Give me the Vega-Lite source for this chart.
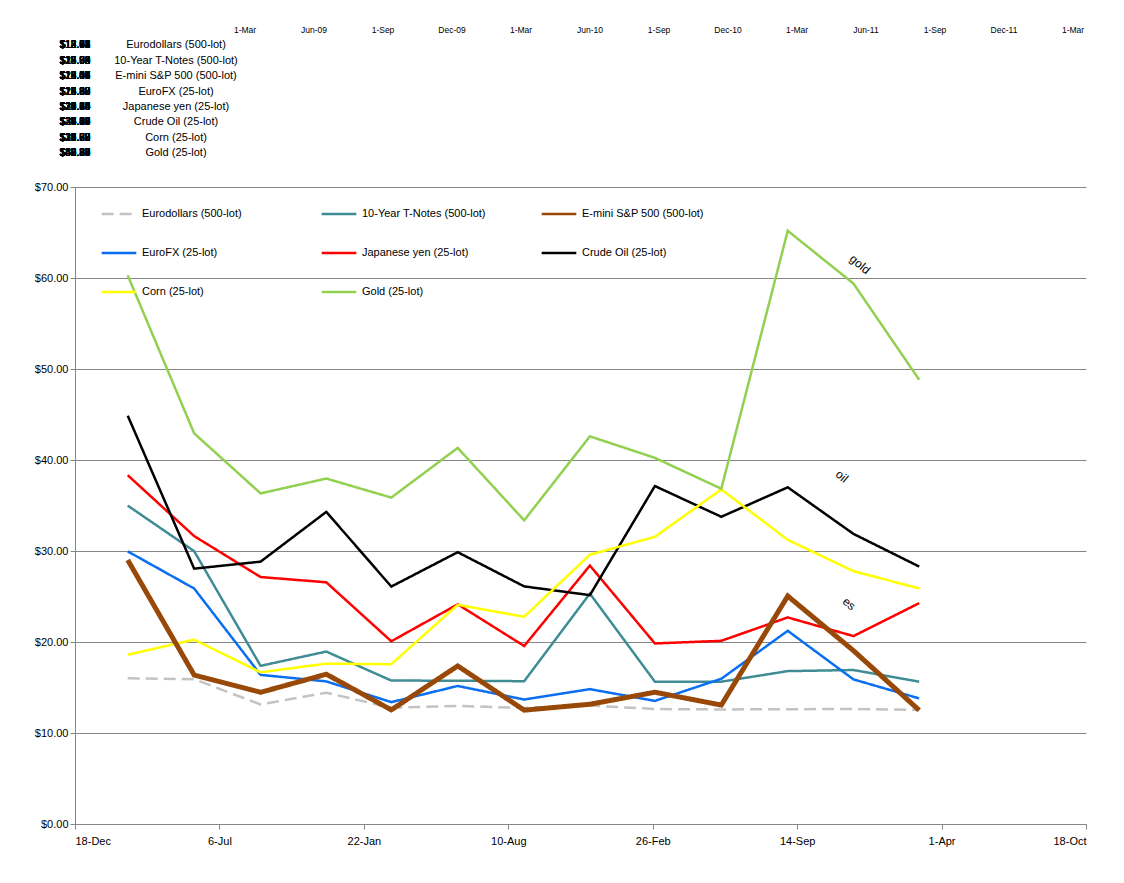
{
  "$schema": "https://vega.github.io/schema/vega-lite/v6.json",
  "autosize": "none",
  "width": 1011,
  "height": 637,
  "padding": {"left": 75, "top": 187, "right": 38, "bottom": 59},
  "background": "white",
  "title": {"text": "Market Width (2009 - 2012)", "fontSize": 10, "font": "Liberation Sans", "fontWeight": "bold", "anchor": "start", "dx": 420, "offset": 164},
  "datasets": {
    "widths": [
      {"s": "Eurodollars (500-lot)", "d": "2009-03-01", "v": 16.01}, {"s": "Eurodollars (500-lot)", "d": "2009-06-01", "v": 15.91}, {"s": "Eurodollars (500-lot)", "d": "2009-09-01", "v": 13.14}, {"s": "Eurodollars (500-lot)", "d": "2009-12-01", "v": 14.43}, {"s": "Eurodollars (500-lot)", "d": "2010-03-01", "v": 12.77}, {"s": "Eurodollars (500-lot)", "d": "2010-06-01", "v": 12.98}, {"s": "Eurodollars (500-lot)", "d": "2010-09-01", "v": 12.75}, {"s": "Eurodollars (500-lot)", "d": "2010-12-01", "v": 13.02}, {"s": "Eurodollars (500-lot)", "d": "2011-03-01", "v": 12.63}, {"s": "Eurodollars (500-lot)", "d": "2011-06-01", "v": 12.59}, {"s": "Eurodollars (500-lot)", "d": "2011-09-01", "v": 12.62}, {"s": "Eurodollars (500-lot)", "d": "2011-12-01", "v": 12.63}, {"s": "Eurodollars (500-lot)", "d": "2012-03-01", "v": 12.54},
      {"s": "10-Year T-Notes (500-lot)", "d": "2009-03-01", "v": 34.99}, {"s": "10-Year T-Notes (500-lot)", "d": "2009-06-01", "v": 29.98}, {"s": "10-Year T-Notes (500-lot)", "d": "2009-09-01", "v": 17.38}, {"s": "10-Year T-Notes (500-lot)", "d": "2009-12-01", "v": 18.95}, {"s": "10-Year T-Notes (500-lot)", "d": "2010-03-01", "v": 15.76}, {"s": "10-Year T-Notes (500-lot)", "d": "2010-06-01", "v": 15.75}, {"s": "10-Year T-Notes (500-lot)", "d": "2010-09-01", "v": 15.69}, {"s": "10-Year T-Notes (500-lot)", "d": "2010-12-01", "v": 25.32}, {"s": "10-Year T-Notes (500-lot)", "d": "2011-03-01", "v": 15.64}, {"s": "10-Year T-Notes (500-lot)", "d": "2011-06-01", "v": 15.64}, {"s": "10-Year T-Notes (500-lot)", "d": "2011-09-01", "v": 16.80}, {"s": "10-Year T-Notes (500-lot)", "d": "2011-12-01", "v": 16.92}, {"s": "10-Year T-Notes (500-lot)", "d": "2012-03-01", "v": 15.64},
      {"s": "EuroFX (25-lot)", "d": "2009-03-01", "v": 29.96}, {"s": "EuroFX (25-lot)", "d": "2009-06-01", "v": 25.88}, {"s": "EuroFX (25-lot)", "d": "2009-09-01", "v": 16.39}, {"s": "EuroFX (25-lot)", "d": "2009-12-01", "v": 15.67}, {"s": "EuroFX (25-lot)", "d": "2010-03-01", "v": 13.39}, {"s": "EuroFX (25-lot)", "d": "2010-06-01", "v": 15.17}, {"s": "EuroFX (25-lot)", "d": "2010-09-01", "v": 13.68}, {"s": "EuroFX (25-lot)", "d": "2010-12-01", "v": 14.82}, {"s": "EuroFX (25-lot)", "d": "2011-03-01", "v": 13.53}, {"s": "EuroFX (25-lot)", "d": "2011-06-01", "v": 15.96}, {"s": "EuroFX (25-lot)", "d": "2011-09-01", "v": 21.23}, {"s": "EuroFX (25-lot)", "d": "2011-12-01", "v": 15.89}, {"s": "EuroFX (25-lot)", "d": "2012-03-01", "v": 13.80},
      {"s": "Japanese yen (25-lot)", "d": "2009-03-01", "v": 38.33}, {"s": "Japanese yen (25-lot)", "d": "2009-06-01", "v": 31.64}, {"s": "Japanese yen (25-lot)", "d": "2009-09-01", "v": 27.14}, {"s": "Japanese yen (25-lot)", "d": "2009-12-01", "v": 26.56}, {"s": "Japanese yen (25-lot)", "d": "2010-03-01", "v": 20.08}, {"s": "Japanese yen (25-lot)", "d": "2010-06-01", "v": 24.14}, {"s": "Japanese yen (25-lot)", "d": "2010-09-01", "v": 19.56}, {"s": "Japanese yen (25-lot)", "d": "2010-12-01", "v": 28.40}, {"s": "Japanese yen (25-lot)", "d": "2011-03-01", "v": 19.84}, {"s": "Japanese yen (25-lot)", "d": "2011-06-01", "v": 20.13}, {"s": "Japanese yen (25-lot)", "d": "2011-09-01", "v": 22.70}, {"s": "Japanese yen (25-lot)", "d": "2011-12-01", "v": 20.65}, {"s": "Japanese yen (25-lot)", "d": "2012-03-01", "v": 24.27},
      {"s": "Crude Oil (25-lot)", "d": "2009-03-01", "v": 44.87}, {"s": "Crude Oil (25-lot)", "d": "2009-06-01", "v": 28.06}, {"s": "Crude Oil (25-lot)", "d": "2009-09-01", "v": 28.83}, {"s": "Crude Oil (25-lot)", "d": "2009-12-01", "v": 34.30}, {"s": "Crude Oil (25-lot)", "d": "2010-03-01", "v": 26.09}, {"s": "Crude Oil (25-lot)", "d": "2010-06-01", "v": 29.87}, {"s": "Crude Oil (25-lot)", "d": "2010-09-01", "v": 26.11}, {"s": "Crude Oil (25-lot)", "d": "2010-12-01", "v": 25.15}, {"s": "Crude Oil (25-lot)", "d": "2011-03-01", "v": 37.14}, {"s": "Crude Oil (25-lot)", "d": "2011-06-01", "v": 33.76}, {"s": "Crude Oil (25-lot)", "d": "2011-09-01", "v": 37.00}, {"s": "Crude Oil (25-lot)", "d": "2011-12-01", "v": 31.88}, {"s": "Crude Oil (25-lot)", "d": "2012-03-01", "v": 28.29},
      {"s": "Corn (25-lot)", "d": "2009-03-01", "v": 18.60}, {"s": "Corn (25-lot)", "d": "2009-06-01", "v": 20.26}, {"s": "Corn (25-lot)", "d": "2009-09-01", "v": 16.67}, {"s": "Corn (25-lot)", "d": "2009-12-01", "v": 17.62}, {"s": "Corn (25-lot)", "d": "2010-03-01", "v": 17.56}, {"s": "Corn (25-lot)", "d": "2010-06-01", "v": 24.09}, {"s": "Corn (25-lot)", "d": "2010-09-01", "v": 22.77}, {"s": "Corn (25-lot)", "d": "2010-12-01", "v": 29.59}, {"s": "Corn (25-lot)", "d": "2011-03-01", "v": 31.56}, {"s": "Corn (25-lot)", "d": "2011-06-01", "v": 36.77}, {"s": "Corn (25-lot)", "d": "2011-09-01", "v": 31.22}, {"s": "Corn (25-lot)", "d": "2011-12-01", "v": 27.79}, {"s": "Corn (25-lot)", "d": "2012-03-01", "v": 25.88},
      {"s": "Gold (25-lot)", "d": "2009-03-01", "v": 60.29}, {"s": "Gold (25-lot)", "d": "2009-06-01", "v": 42.93}, {"s": "Gold (25-lot)", "d": "2009-09-01", "v": 36.33}, {"s": "Gold (25-lot)", "d": "2009-12-01", "v": 37.96}, {"s": "Gold (25-lot)", "d": "2010-03-01", "v": 35.87}, {"s": "Gold (25-lot)", "d": "2010-06-01", "v": 41.33}, {"s": "Gold (25-lot)", "d": "2010-09-01", "v": 33.37}, {"s": "Gold (25-lot)", "d": "2010-12-01", "v": 42.60}, {"s": "Gold (25-lot)", "d": "2011-03-01", "v": 40.24}, {"s": "Gold (25-lot)", "d": "2011-06-01", "v": 36.84}, {"s": "Gold (25-lot)", "d": "2011-09-01", "v": 65.19}, {"s": "Gold (25-lot)", "d": "2011-12-01", "v": 59.39}, {"s": "Gold (25-lot)", "d": "2012-03-01", "v": 48.82},
      {"s": "E-mini S&P 500 (500-lot)", "d": "2009-03-01", "v": 29.01}, {"s": "E-mini S&P 500 (500-lot)", "d": "2009-06-01", "v": 16.37}, {"s": "E-mini S&P 500 (500-lot)", "d": "2009-09-01", "v": 14.47}, {"s": "E-mini S&P 500 (500-lot)", "d": "2009-12-01", "v": 16.46}, {"s": "E-mini S&P 500 (500-lot)", "d": "2010-03-01", "v": 12.54}, {"s": "E-mini S&P 500 (500-lot)", "d": "2010-06-01", "v": 17.37}, {"s": "E-mini S&P 500 (500-lot)", "d": "2010-09-01", "v": 12.51}, {"s": "E-mini S&P 500 (500-lot)", "d": "2010-12-01", "v": 13.16}, {"s": "E-mini S&P 500 (500-lot)", "d": "2011-03-01", "v": 14.48}, {"s": "E-mini S&P 500 (500-lot)", "d": "2011-06-01", "v": 13.07}, {"s": "E-mini S&P 500 (500-lot)", "d": "2011-09-01", "v": 25.05}, {"s": "E-mini S&P 500 (500-lot)", "d": "2011-12-01", "v": 19.05}, {"s": "E-mini S&P 500 (500-lot)", "d": "2012-03-01", "v": 12.50}
    ],
    "headers": [
      {"s": "header", "d": "2009-03-01", "t": "1-Mar"}, {"s": "header", "d": "2009-06-01", "t": "Jun-09"}, {"s": "header", "d": "2009-09-01", "t": "1-Sep"}, {"s": "header", "d": "2009-12-01", "t": "Dec-09"}, {"s": "header", "d": "2010-03-01", "t": "1-Mar"}, {"s": "header", "d": "2010-06-01", "t": "Jun-10"}, {"s": "header", "d": "2010-09-01", "t": "1-Sep"}, {"s": "header", "d": "2010-12-01", "t": "Dec-10"}, {"s": "header", "d": "2011-03-01", "t": "1-Mar"}, {"s": "header", "d": "2011-06-01", "t": "Jun-11"}, {"s": "header", "d": "2011-09-01", "t": "1-Sep"}, {"s": "header", "d": "2011-12-01", "t": "Dec-11"}, {"s": "header", "d": "2012-03-01", "t": "1-Mar"},
      {"s": "Eurodollars (500-lot)", "d": "label", "t": "Eurodollars (500-lot)"}, {"s": "10-Year T-Notes (500-lot)", "d": "label", "t": "10-Year T-Notes (500-lot)"}, {"s": "E-mini S&P 500 (500-lot)", "d": "label", "t": "E-mini S&P 500 (500-lot)"}, {"s": "EuroFX (25-lot)", "d": "label", "t": "EuroFX (25-lot)"}, {"s": "Japanese yen (25-lot)", "d": "label", "t": "Japanese yen (25-lot)"}, {"s": "Crude Oil (25-lot)", "d": "label", "t": "Crude Oil (25-lot)"}, {"s": "Corn (25-lot)", "d": "label", "t": "Corn (25-lot)"}, {"s": "Gold (25-lot)", "d": "label", "t": "Gold (25-lot)"}
    ],
    "notes": [
      {"d": "2011-12-10", "v": 61.5, "t": "gold"},
      {"d": "2011-11-15", "v": 38.2, "t": "oil"},
      {"d": "2011-11-25", "v": 24.2, "t": "es"}
    ]
  },
  "layer": [
    {
      "layer": [
        {
          "data": {"name": "widths"},
          "mark": {"type": "line"},
          "encoding": {
            "x": {"field": "d", "type": "temporal"},
            "y": {"field": "v", "type": "quantitative"},
            "color": {
              "field": "s", "type": "nominal",
              "scale": {"domain": ["Eurodollars (500-lot)", "10-Year T-Notes (500-lot)", "E-mini S&P 500 (500-lot)", "EuroFX (25-lot)", "Japanese yen (25-lot)", "Crude Oil (25-lot)", "Corn (25-lot)", "Gold (25-lot)"], "range": ["#C3C3C3", "#3F8C95", "#984807", "#0A6EF0", "#FF0000", "#000000", "#FFFF00", "#92D050"]},
              "legend": {"title": null, "orient": "none", "legendX": 25, "legendY": 8, "columns": 3, "direction": "horizontal", "columnPadding": 50, "rowPadding": 15, "symbolType": "stroke", "symbolSize": 1200, "symbolStrokeWidth": 2.5, "labelFont": "Liberation Sans", "labelFontSize": 11, "labelLimit": 300, "gridAlign": "all"}
            },
            "strokeDash": {
              "field": "s", "type": "nominal",
              "scale": {"domain": ["Eurodollars (500-lot)", "10-Year T-Notes (500-lot)", "E-mini S&P 500 (500-lot)", "EuroFX (25-lot)", "Japanese yen (25-lot)", "Crude Oil (25-lot)", "Corn (25-lot)", "Gold (25-lot)"], "range": [[12, 6], [1, 0], [1, 0], [1, 0], [1, 0], [1, 0], [1, 0], [1, 0]]},
              "legend": null
            },
            "strokeWidth": {"condition": {"test": "datum.s === 'E-mini S&P 500 (500-lot)'", "value": 5}, "value": 2.5}
          }
        },
        {
          "data": {"name": "notes"},
          "mark": {"type": "text", "angle": 40, "font": "Liberation Sans", "fontSize": 12, "color": "black"},
          "encoding": {
            "x": {"field": "d", "type": "temporal"},
            "y": {"field": "v", "type": "quantitative"},
            "text": {"field": "t"}
          }
        }
      ],
      "encoding": {
        "x": {
          "scale": {"domain": ["2008-12-18", "2012-10-18"]},
          "axis": {"title": null, "grid": false, "values": ["2008-12-18", "2009-07-06", "2010-01-22", "2010-08-10", "2011-02-26", "2011-09-14", "2012-04-01", "2012-10-18"], "format": "%-d-%b", "labelFont": "Liberation Sans", "labelFontSize": 11, "labelColor": "black", "domainColor": "#868686", "tickColor": "#868686", "labelPadding": 6}
        },
        "y": {
          "scale": {"domain": [0, 70]},
          "axis": {"title": null, "values": [0, 10, 20, 30, 40, 50, 60, 70], "labelOverlap": false, "format": "$.2f", "labelFont": "Liberation Sans", "labelFontSize": 11, "labelColor": "black", "gridColor": "#868686", "domainColor": "#868686", "tickColor": "#868686"}
        }
      }
    },
    {
      "layer": [
        {
          "data": {"name": "widths"},
          "mark": {"type": "text", "font": "Liberation Sans", "fontSize": 10, "align": "center", "color": "black"},
          "encoding": {
            "x": {"field": "d", "type": "ordinal"},
            "y": {"field": "s", "type": "ordinal"},
            "text": {"field": "v", "type": "quantitative", "format": "$.2f"}
          }
        },
        {
          "data": {"name": "headers"},
          "mark": {"type": "text", "font": "Liberation Sans", "color": "black"},
          "encoding": {
            "x": {"field": "d", "type": "ordinal"},
            "y": {"field": "s", "type": "ordinal"},
            "text": {"field": "t"},
            "align": {"condition": {"test": "datum.d === 'label'", "value": "right"}, "value": "center"},
            "dx": {"condition": {"test": "datum.d === 'label'", "value": 14}, "value": 0},
            "size": {"condition": {"test": "datum.d === 'label'", "value": 11}, "value": 8.5}
          }
        }
      ],
      "encoding": {
        "x": {"axis": null, "scale": {"type": "point", "padding": 0, "domain": ["label", "2009-03-01", "2009-06-01", "2009-09-01", "2009-12-01", "2010-03-01", "2010-06-01", "2010-09-01", "2010-12-01", "2011-03-01", "2011-06-01", "2011-09-01", "2011-12-01", "2012-03-01"], "range": [101, 998]}},
        "y": {"axis": null, "scale": {"type": "point", "padding": 0, "range": [-157, -34], "domain": ["header", "Eurodollars (500-lot)", "10-Year T-Notes (500-lot)", "E-mini S&P 500 (500-lot)", "EuroFX (25-lot)", "Japanese yen (25-lot)", "Crude Oil (25-lot)", "Corn (25-lot)", "Gold (25-lot)"]}}
      }
    }
  ],
  "resolve": {"scale": {"x": "independent", "y": "independent"}, "axis": {"x": "independent", "y": "independent"}},
  "config": {"view": {"stroke": null}}
}
